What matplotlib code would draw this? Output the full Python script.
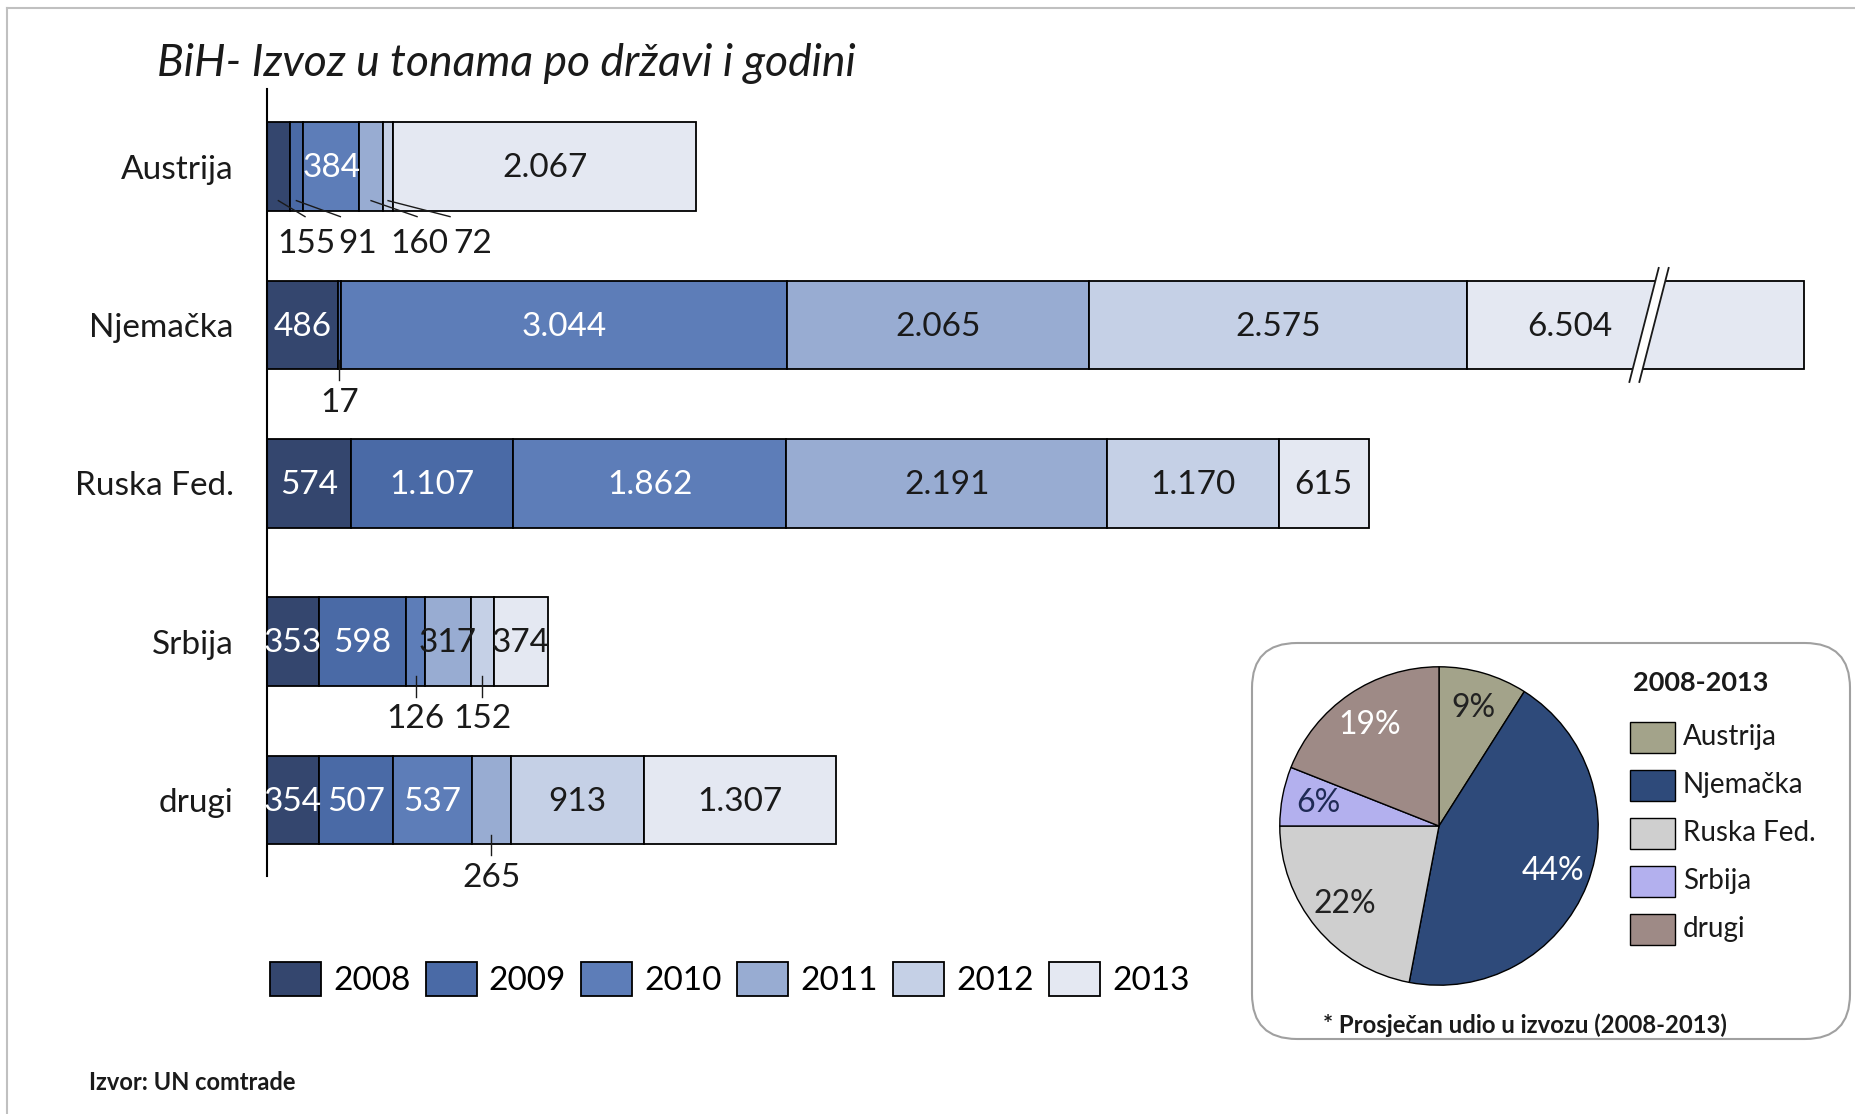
import matplotlib
matplotlib.use("Agg")
import matplotlib.pyplot as plt
from matplotlib.patches import FancyBboxPatch, Polygon, Rectangle
import numpy as np

plt.rcParams['font.family'] = ['Lato', 'DejaVu Sans']

# ---------------- data ----------------
countries = ["Austrija", "Njemačka", "Ruska Fed.", "Srbija", "drugi"]
years = ["2008", "2009", "2010", "2011", "2012", "2013"]
v2008 = [155, 486, 574, 353, 354]
v2009 = [91, 17, 1107, 598, 507]
v2010 = [384, 3044, 1862, 126, 537]
v2011 = [160, 2065, 2191, 317, 265]
v2012 = [72, 2575, 1170, 152, 913]
v2013 = [2067, 6504, 615, 374, 1307]

pie_labels = ["Austrija", "Njemačka", "Ruska Fed.", "Srbija", "drugi"]
pie_share = [9, 44, 22, 6, 19]

# ---------------- style ----------------
year_colors = ["#34466e", "#4a6aa6", "#5d7db8", "#98acd2", "#c5d0e6", "#e4e8f2"]
pie_colors = ["#a3a38a", "#2e4a7a", "#cfcfcf", "#b3b0ee", "#9e8a86"]
pie_text_colors = ["#222222", "white", "#222222", "#1f2a55", "white"]
label_white = [True, True, True, False, False, False]
DARK = "#1a1a1a"
FS = 24
XMAX = 10600
BROKEN_VISIBLE = 2300      # visible length of the broken Njemačka/2013 segment
BREAK_POS = 1210           # where the break marks sit inside that segment
BAR_H = 0.56

W, H = 1856, 1114
fig = plt.figure(figsize=(W / 100, H / 100), dpi=100)
fig.patch.set_facecolor("white")

# overlay axes in pixel coordinates
ov = fig.add_axes([0, 0, 1, 1], zorder=0)
ov.set_xlim(0, W)
ov.set_ylim(H, 0)
ov.axis("off")
ov.plot([7, 7], [8, H], color="#c0c0c0", lw=1.5)
ov.plot([7, W], [8, 8], color="#c0c0c0", lw=1.5)
ov.text(157, 63, "BiH- Izvoz u tonama po državi i godini", fontsize=32,
        style="italic", color=DARK, va="center", ha="left")
ov.text(89, 1083, "Izvor: UN comtrade", fontsize=17, weight="bold",
        color=DARK, va="center", ha="left")
box = FancyBboxPatch((1252, 643), 598, 396, boxstyle="round,pad=0,rounding_size=45",
                     fc="white", ec="#a0a0a0", lw=1.5)
ov.add_patch(box)
ov.text(1323, 1025, "* Prosječan udio u izvozu (2008-2013)", fontsize=17.2,
        weight="bold", color=DARK, va="center", ha="left")

# pie legend (drawn in pixel coordinates)
ov.text(1633, 683, "2008-2013", fontsize=19.5, weight="bold", color=DARK,
        va="center", ha="left")
for k, (lab, col) in enumerate(zip(pie_labels, pie_colors)):
    yc = 737 + k * 48
    ov.add_patch(Rectangle((1630, yc - 15.5), 45, 31, fc=col, ec="black", lw=1.0))
    ov.text(1683, yc, lab, fontsize=20, color=DARK, va="center", ha="left")

# ---------------- main bar axes ----------------
scale = 0.14654  # px per unit
ax_left = 267 / W
ax_w = XMAX * scale / W
ax = fig.add_axes([ax_left, (H - 876) / H, ax_w, 787 / H], zorder=1)
ax.patch.set_alpha(0)
ax.set_xlim(0, XMAX)
ax.set_ylim(4.48, -0.49)
for s in ["top", "right", "bottom"]:
    ax.spines[s].set_visible(False)
ax.spines["left"].set_linewidth(1.5)
ax.set_xticks([])
ax.set_yticks(range(len(countries)))
ax.set_yticklabels(countries, fontsize=FS, color=DARK)
ax.tick_params(axis="y", length=0, pad=24)

series = [v2008, v2009, v2010, v2011, v2012, v2013]
ypos = np.arange(len(countries))
left = np.zeros(len(countries))
handles = []
seg_info = []  # (country idx, year idx, start, width, value)
for j, vals in enumerate(series):
    widths = np.array(vals, dtype=float)
    disp = widths.copy()
    if j == 5:
        disp[1] = min(widths[1], BROKEN_VISIBLE)
    h = ax.barh(ypos, disp, left=left, height=BAR_H, color=year_colors[j],
                edgecolor="black", linewidth=1.3, label=years[j])
    handles.append(h)
    for i in range(len(countries)):
        seg_info.append((i, j, left[i], disp[i], vals[i]))
    left = left + disp

def fmt(v):
    return f"{v:,}".replace(",", ".")

# labels placed outside (country, year): (dx_text, dx_line, slanted?)
outside = {
    (0, 0): (189, 182, True),
    (0, 1): (421, 300, True),
    (0, 3): (331, 314, True),
    (0, 4): (577, 423, True),
    (1, 1): (0, 0, False),
    (3, 2): (0, 0, False),
    (3, 4): (0, 0, False),
    (4, 3): (0, 0, False),
}

for (i, j, st, w, v) in seg_info:
    cx = st + w / 2
    if (i, j) in outside:
        dxt, dxl, slant = outside[(i, j)]
        if slant:
            ax.plot([cx, cx + dxl], [i + 0.215, i + 0.316], color=DARK, lw=1.0)
            ax.text(cx + dxt, i + 0.49, fmt(v), fontsize=FS, color=DARK,
                    ha="center", va="center")
        else:
            ax.plot([cx, cx], [i + BAR_H / 2 - 0.06, i + BAR_H / 2 + 0.07],
                    color=DARK, lw=1.0)
            ax.text(cx, i + 0.49, fmt(v), fontsize=FS, color=DARK,
                    ha="center", va="center")
    else:
        if i == 1 and j == 5:
            cx = st + BREAK_POS / 2 + 100
        ax.text(cx, i + 0.01, fmt(v), fontsize=FS,
                color="white" if label_white[j] else DARK,
                ha="center", va="center")

# break marks on the Njemačka 2013 segment
i_nj = 1
st_nj = sum(s[i_nj] for s in series[:5])
bx = st_nj + BREAK_POS
yb, yt = i_nj + 0.36, i_nj - 0.36
sl = 100
gap = 68
poly = Polygon([[bx - sl, yb], [bx + sl, yt], [bx + sl + gap, yt], [bx - sl + gap, yb]],
               closed=True, fc="white", ec="none", zorder=3)
ax.add_patch(poly)
ax.plot([bx - sl, bx + sl], [yb, yt], color=DARK, lw=1.3, zorder=4)
ax.plot([bx - sl + gap, bx + sl + gap], [yb, yt], color=DARK, lw=1.3, zorder=4)

fig.legend(handles=handles, labels=years, loc="center left",
           bbox_to_anchor=(270 / W, 1 - 979 / H), ncol=6, frameon=False,
           fontsize=FS, handlelength=1.53, handleheight=1.23, handletextpad=0.36,
           columnspacing=0.46, borderpad=0, borderaxespad=0)

# ---------------- pie ----------------
R = 160
pcx, pcy = 1439, 826
pax = fig.add_axes([(pcx - R) / W, (H - pcy - R) / H, 2 * R / W, 2 * R / H], zorder=2)
wedges, texts, autotexts = pax.pie(pie_share, colors=pie_colors, startangle=90,
                                   counterclock=False, autopct=lambda p: f"{p:.0f}%",
                                   pctdistance=0.77,
                                   wedgeprops=dict(edgecolor="black", linewidth=1.0),
                                   textprops=dict(fontsize=23))
for t, c in zip(autotexts, pie_text_colors):
    t.set_color(c)
pax.set_xlim(-1.005, 1.005)
pax.set_ylim(-1.005, 1.005)
pax.set_aspect("equal")

fig.savefig("out.png", dpi=100, facecolor="white")
